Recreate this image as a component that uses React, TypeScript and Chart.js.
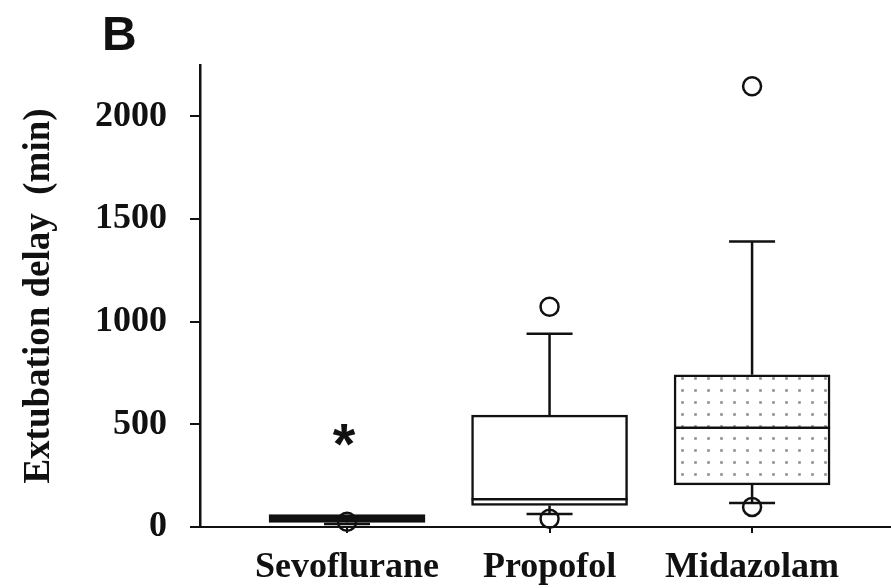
import React, { useEffect, useRef } from 'react';
import { Chart, registerables } from 'chart.js';

Chart.register(...registerables);

// ---- data ----
const CATEGORIES = ['Sevoflurane', 'Propofol', 'Midazolam'];
const Q1 = [22, 105, 205];
const MEDIAN = [40, 135, 483];
const Q3 = [60, 545, 741];
const WHISKER_LOW = [15, 63, 117];
const WHISKER_HIGH = [60, 941, 1390];
const OUTLIER_CATEGORY = [1, 2, 2, 3, 3];
const OUTLIER_VALUE = [25, 1073, 40, 2146, 98];
const Y_TICKS = [0, 500, 1000, 1500, 2000];
const Y_MAX = 2250;
const SIGNIF_CATEGORY = 1;
const SIGNIF_VALUE = 450;
const SIGNIF_MARK = '*';
const PANEL_LABEL = 'B';
const Y_TITLE = 'Extubation delay  (min)';

// ---- style ----
const INK = '#111111';
const SERIF = '"Liberation Serif", "Times New Roman", Times, serif';
const SANS = '"Liberation Sans", Arial, Helvetica, sans-serif';
const X_MIN = 0.274;
const X_MAX = 3.686;
const CAP_HALF = 23;

function makeDotPattern(ctx: CanvasRenderingContext2D): CanvasPattern | string {
  const c = document.createElement('canvas');
  c.width = 13;
  c.height = 12;
  const p = c.getContext('2d');
  if (!p) return '#fff';
  p.fillStyle = '#ffffff';
  p.fillRect(0, 0, 13, 12);
  p.fillStyle = 'rgba(120,120,120,0.45)';
  p.fillRect(5, 5, 3, 3);
  p.fillStyle = '#8a8a8a';
  p.fillRect(5.5, 5.5, 2, 2);
  return ctx.createPattern(c, 'repeat') || '#fff';
}

const extrasPlugin = {
  id: 'boxExtras',
  afterDatasetsDraw(chart: any) {
    const ctx: CanvasRenderingContext2D = chart.ctx;
    const yScale = chart.scales.y;
    const xScale = chart.scales.x;
    const meta = chart.getDatasetMeta(0);
    ctx.save();
    ctx.strokeStyle = INK;
    ctx.lineWidth = 2.5;
    CATEGORIES.forEach((_, i) => {
      const bar = meta.data[i];
      if (!bar) return;
      const x = bar.x;
      const half = bar.width / 2;
      const yq1 = yScale.getPixelForValue(Q1[i]);
      const yq3 = yScale.getPixelForValue(Q3[i]);
      const ym = yScale.getPixelForValue(MEDIAN[i]);
      const ylo = yScale.getPixelForValue(WHISKER_LOW[i]);
      const yhi = yScale.getPixelForValue(WHISKER_HIGH[i]);
      ctx.beginPath();
      ctx.moveTo(x - half, ym);
      ctx.lineTo(x + half, ym);
      if (WHISKER_HIGH[i] > Q3[i]) {
        ctx.moveTo(x, yq3);
        ctx.lineTo(x, yhi);
        ctx.moveTo(x - CAP_HALF, yhi);
        ctx.lineTo(x + CAP_HALF, yhi);
      }
      if (WHISKER_LOW[i] < Q1[i]) {
        ctx.moveTo(x, yq1);
        ctx.lineTo(x, ylo);
        ctx.moveTo(x - CAP_HALF, ylo);
        ctx.lineTo(x + CAP_HALF, ylo);
      }
      ctx.stroke();
    });
    // significance mark
    ctx.fillStyle = INK;
    ctx.font = `bold 58px ${SANS}`;
    ctx.textAlign = 'center';
    ctx.textBaseline = 'alphabetic';
    const m = ctx.measureText(SIGNIF_MARK);
    const cy = yScale.getPixelForValue(SIGNIF_VALUE);
    const cx = xScale.getPixelForValue(SIGNIF_CATEGORY) - 3;
    const base = cy + (m.actualBoundingBoxAscent - m.actualBoundingBoxDescent) / 2;
    ctx.fillText(SIGNIF_MARK, cx, base);
    ctx.restore();
  },
  afterDraw(chart: any) {
    const ctx: CanvasRenderingContext2D = chart.ctx;
    ctx.save();
    ctx.fillStyle = INK;
    ctx.font = `bold 48px ${SANS}`;
    ctx.textAlign = 'left';
    ctx.textBaseline = 'alphabetic';
    ctx.fillText(PANEL_LABEL, 102, 50);
    ctx.restore();
  },
};

export default function App() {
  const ref = useRef<HTMLCanvasElement | null>(null);

  useEffect(() => {
    const canvas = ref.current;
    if (!canvas) return;
    const ctx = canvas.getContext('2d');
    if (!ctx) return;
    const pattern = makeDotPattern(ctx);
    const fills = [INK, '#ffffff', pattern];

    const chart = new Chart(canvas, {
      type: 'bar',
      data: {
        datasets: [
          {
            type: 'bar',
            data: CATEGORIES.map((_, i) => ({ x: i + 1, y: [Q1[i], Q3[i]] })) as any,
            backgroundColor: fills as any,
            borderColor: INK,
            borderWidth: 2.5,
            borderSkipped: false,
            barThickness: 156,
          } as any,
          {
            type: 'scatter',
            data: OUTLIER_VALUE.map((v, i) => ({ x: OUTLIER_CATEGORY[i], y: v })),
            pointRadius: 9,
            pointBorderWidth: 2.5,
            pointBackgroundColor: 'rgba(0,0,0,0)',
            pointBorderColor: INK,
            showLine: false,
            clip: false,
          } as any,
        ],
      },
      options: {
        animation: false,
        responsive: false,
        devicePixelRatio: 1,
        layout: { autoPadding: false, padding: { top: 65, left: 0, right: 0, bottom: 0 } },
        plugins: {
          legend: { display: false },
          tooltip: { enabled: false },
          title: { display: false },
        },
        scales: {
          x: {
            type: 'linear',
            min: X_MIN,
            max: X_MAX,
            offset: false,
            bounds: 'ticks',
            afterBuildTicks: (scale: any) => {
              scale.ticks = CATEGORIES.map((_, i) => ({ value: i + 1 }));
            },
            afterFit: (scale: any) => {
              scale.height = 61;
            },
            ticks: {
              callback: (v: any) => CATEGORIES[Number(v) - 1] ?? '',
              color: INK,
              font: { family: SERIF, size: 36, weight: 'bold' },
              padding: 13,
              maxRotation: 0,
              autoSkip: false,
            },
            grid: {
              display: true,
              offset: false,
              drawOnChartArea: false,
              drawTicks: true,
              tickLength: 6,
              color: INK,
              lineWidth: 2,
            },
            border: { display: true, color: INK, width: 2 },
          },
          y: {
            type: 'linear',
            min: 0,
            max: Y_MAX,
            afterBuildTicks: (scale: any) => {
              scale.ticks = Y_TICKS.map((v) => ({ value: v }));
            },
            afterFit: (scale: any) => {
              scale.width = 200;
            },
            ticks: {
              color: INK,
              font: { family: SERIF, size: 36, weight: 'bold' },
              padding: 23,
              callback: (v: any) => String(v),
            },
            grid: {
              display: true,
              drawOnChartArea: false,
              drawTicks: true,
              tickLength: 10,
              color: INK,
              lineWidth: 2,
            },
            border: { display: true, color: INK, width: 2.5 },
            title: {
              display: true,
              text: Y_TITLE,
              color: INK,
              font: { family: SERIF, size: 37, weight: 'bold' },
              padding: { top: 17, bottom: 0 },
            },
          },
        },
      } as any,
      plugins: [extrasPlugin],
    });

    return () => chart.destroy();
  }, []);

  return (
    <div style={{ position: 'fixed', left: 0, top: 0, width: 891, height: 588, background: '#fff' }}>
      <canvas ref={ref} width={891} height={588} style={{ display: 'block', width: 891, height: 588 }} />
    </div>
  );
}
